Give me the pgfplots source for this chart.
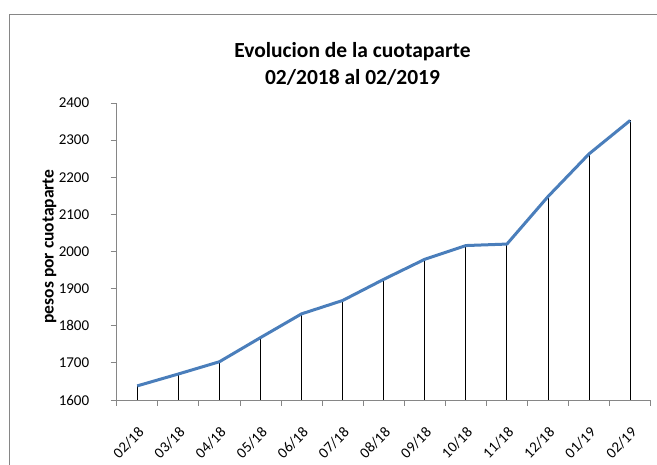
\documentclass[border=0pt]{standalone}
\usepackage{pgfplots}
\pgfplotsset{compat=1.18}
\usepackage{fontspec}
\setmainfont{Carlito}
\definecolor{lineblue}{HTML}{4A7EBB}
\definecolor{axgray}{HTML}{868686}
\newcommand{\tl}[1]{{\fontsize{15}{18}\selectfont #1}}
\begin{document}
\begin{tikzpicture}[x=1pt,y=1pt]
\useasboundingbox (0,0) rectangle (657,465);
\draw[axgray,line width=0.8pt] (9,-5) -- (9,451) -- (670,451);
\node[font=\bfseries\fontsize{21.5}{26}\selectfont,anchor=base] at (352.5,407) {Evolucion de la cuotaparte};
\node[font=\bfseries\fontsize{21.5}{26}\selectfont,anchor=base] at (352.5,380) {02/2018 al 02/2019};
\begin{axis}[
  at={(116.7pt,65pt)}, anchor=south west,
  scale only axis, width=534pt, height=297pt,
  xmin=-0.5, xmax=12.5, ymin=1600, ymax=2400,
  ytick={1600,1700,...,2400},
  yticklabel={\tl{\pgfmathprintnumber[1000 sep={},assume math mode=true]{\tick}}},
  xtick={0,...,12},
  xticklabels={\tl{02/18},\tl{03/18},\tl{04/18},\tl{05/18},\tl{06/18},\tl{07/18},\tl{08/18},\tl{09/18},\tl{10/18},\tl{11/18},\tl{12/18},\tl{01/19},\tl{02/19}},
  minor xtick={-0.5,0.5,...,12.5},
  axis lines*=left,
  axis line style={axgray,line width=0.8pt},
  every tick/.style={axgray,line width=0.8pt},
  tick align=outside,
  major tick length=6pt, minor tick length=6pt,
  major x tick style={draw=none},
  yticklabel style={anchor=east, xshift=-18pt},
  xticklabel style={anchor=east, xshift=6.5pt, yshift=-21.5pt, rotate=45},
  ylabel={pesos por cuotaparte},
  ylabel style={font=\bfseries\fontsize{17.5}{20}\selectfont, at={(axis description cs:-0.126,0.517)}, anchor=center},
  clip=true,
]
\addplot[ycomb, black, line width=0.9pt] coordinates {
(0,1638) (1,1670) (2,1703) (3,1768) (4,1832) (5,1868) (6,1925) (7,1979) (8,2016) (9,2020) (10,2148) (11,2263) (12,2353)};
\addplot[lineblue, line width=3pt, line join=round] coordinates {
(0,1638) (1,1670) (2,1703) (3,1768) (4,1832) (5,1868) (6,1925) (7,1979) (8,2016) (9,2020) (10,2148) (11,2263) (12,2353)};
\end{axis}
\end{tikzpicture}
\end{document}
